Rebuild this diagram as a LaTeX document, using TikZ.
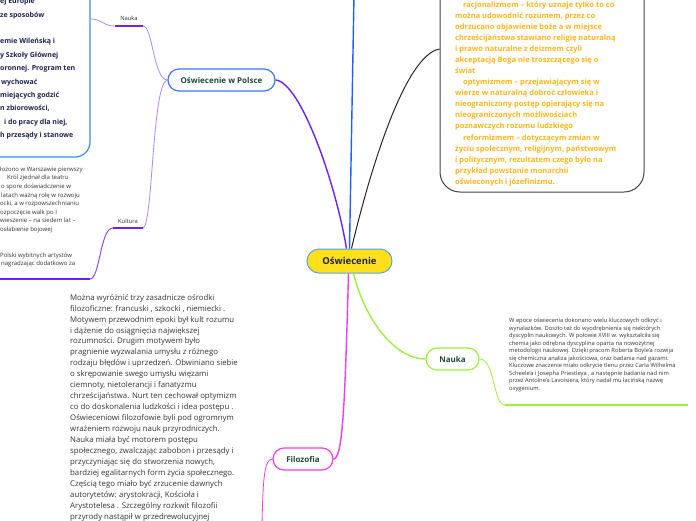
\documentclass[tikz,border=0pt]{standalone}
\usepackage{fontspec}
\setmainfont{Open Sans}
\definecolor{cpurple}{HTML}{6E22F2}
\definecolor{clpurple}{HTML}{A98BFA}
\definecolor{cblue}{HTML}{2060FF}
\definecolor{cgreen}{HTML}{9EF03C}
\definecolor{cmag}{HTML}{F03CF0}
\definecolor{cyel}{HTML}{FFE01A}
\definecolor{cnodeb}{HTML}{5AA6DC}
\definecolor{cnavy}{HTML}{1F2350}
\definecolor{cdgreen}{HTML}{1C4A3C}
\definecolor{corange}{HTML}{FFB61A}
\definecolor{ctext}{HTML}{333333}
\definecolor{cboxblue}{HTML}{3D8BE8}
\definecolor{cpolsce}{HTML}{3A78FF}
\definecolor{cgray}{HTML}{444444}
\tikzset{
  mainedge/.style={line width=1.4pt},
  subedge/.style={line width=0.8pt},
  uline/.style={line width=2pt},
  topic/.style={draw, rounded corners=11pt, line width=1.2pt, fill=white, inner sep=0pt,
    font=\bfseries\fontsize{8}{9}\selectfont, text=cdgreen, minimum height=22pt},
  para/.style={anchor=north west, align=left, inner sep=0pt},
  smalllabel/.style={inner sep=0pt, text=ctext, font=\fontsize{5.8}{7}\selectfont},
}
\begin{document}
\begin{tikzpicture}[x=1pt,y=-1pt]
\useasboundingbox (0,0) rectangle (696,520);
\clip (0,0) rectangle (696,520);
\fill[white] (0,0) rectangle (696,520);

% central node
\node[draw=cnodeb, fill=cyel, line width=1pt, rounded corners=12pt, minimum width=85pt, minimum height=24pt,
  inner sep=0pt, font=\bfseries\fontsize{9.5}{11}\selectfont, text=cnavy] (c) at (349.5,261) {Oświecenie};

% topics
\node[topic, draw=cpolsce, minimum width=107pt] (p) at (221.5,80) {Oświecenie w Polsce};
\node[topic, draw=cgreen, minimum width=53pt] (nr) at (452.5,359) {Nauka};
\node[topic, draw=cmag, minimum width=60pt] (f) at (303,459) {Filozofia};

% boxes
\node[draw=cboxblue, line width=1.2pt, rounded corners=15pt, minimum width=220pt, minimum height=200pt, inner sep=0pt] (lbox) at (-20,57) {};
\node[draw=cgray, line width=1pt, rounded corners=20pt, minimum width=204pt, minimum height=232pt, inner sep=0pt] (rbox) at (542,76) {};

% coordinates
\coordinate (topc) at (354,-5);
\coordinate (nuA) at (505,405);
\coordinate (nuB) at (688,405);
\coordinate (fend) at (262,525);
\coordinate (nlA) at (115,26);
\coordinate (nlB) at (143,26);
\coordinate (klA) at (113,228);
\coordinate (klB) at (143,228);
\coordinate (ktA) at (90,279);
\coordinate (ktB) at (-3,279);

% main edges
\draw[cpurple, mainedge] ([xshift=-3pt]c.north) .. controls (335,180) and (300,82) .. (p.east);
\draw[cblue, mainedge] (c.north) -- (topc);
\draw[black!85, line width=1pt] ([xshift=2pt]c.north) .. controls (370,170) and (405,55) .. ([yshift=27pt]rbox.west);
\draw[cgreen, mainedge] ([xshift=4pt]c.south) .. controls (365,320) and (395,359) .. (nr.west);
\draw[cmag, mainedge] ([xshift=-1pt]c.south) .. controls (345,400) and (343,459) .. (f.east);

% sub edges
\draw[cgreen, subedge] (nr.east) .. controls (495,359) and (493,405) .. (nuA);
\draw[cgreen, uline] (nuA) -- (nuB);
\draw[cmag, subedge] (f.west) .. controls (264,459) and (263,480) .. (fend);
\draw[clpurple, subedge] (p.west) .. controls (153,79) and (153,26) .. (nlB);
\draw[cpurple, uline] (nlB) -- (nlA);
\draw[clpurple, subedge] (nlA) .. controls (103,26) and (102,19) .. ([yshift=38pt]lbox.east);
\draw[clpurple, subedge] (p.west) .. controls (152,82) and (153,226) .. (klB);
\draw[cpurple, uline] (klB) -- (klA);
\draw[cpurple!80, line width=1pt] (klA) .. controls (100,228) and (100,279) .. (ktA);
\draw[cpurple, uline] (ktA) -- (ktB);

% labels
\node[smalllabel] (nl) at (129,18) {Nauka};
\node[smalllabel] (kl) at (128,221) {Kultura};

% texts
\node[para, text=cnavy, font=\bfseries\fontsize{7}{13.4}\selectfont] (ltext) at (0,-1.8) {ej Europie\\
ze sposobów\\
\mbox{}\\
emie Wileńską i\\
y Szkoły Głównej\\
oronnej. Program ten\\
\hspace*{1pt}wychować\\
miejących godzić\\
n zbiorowości,\\
\hspace*{4pt}i do pracy dla niej,\\
h przesądy i stanowe};

\node[para, text=ctext, font=\fontsize{6}{8.6}\selectfont] (ktext) at (0,166.5) {łożono w Warszawie pierwszy\\
\hspace*{7pt}Król zjednał dla teatru\\
\hspace*{1pt}o spore doświadczenie w\\
\hspace*{1pt}latach ważną rolę w rozwoju\\
ocki, a w rozpowszechnianiu\\
ozpoczęcie walk po I\\
wieszenie – na siedem lat –\\
osłabienie bojowej\\
\mbox{}\\
\mbox{}\\
Polski wybitnych artystów\\
\hspace*{1pt}nagradzając dodatkowo za};

\node[para, text=corange, font=\bfseries\fontsize{7.5}{11.04}\selectfont] (rtext) at (455,1.6) {\hspace*{8pt}racjonalizmem – który uznaje tylko to co\\
można udowodnić rozumem, przez co\\
odrzucano objawienie boże a w miejsce\\
chrześcijaństwa stawiano religię naturalną\\
i prawo naturalne z deizmem czyli\\
akceptacją Boga nie troszczącego się o\\
świat\\
\hspace*{8pt}optymizmem – przejawiającym się w\\
wierze w naturalną dobroć człowieka i\\
nieograniczony postęp opierający się na\\
nieograniczonych możliwościach\\
poznawczych rozumu ludzkiego\\
\hspace*{8pt}reformizmem – dotyczącym zmian w\\
życiu społecznym, religijnym, państwowym\\
i politycznym, rezultatem czego było na\\
przykład powstanie monarchii\\
oświeconych i józefinizmu.};

\node[para, text=ctext, font=\fontsize{5.75}{7.5}\selectfont] (ntext) at (509,318.2) {W epoce oświecenia dokonano wielu kluczowych odkryć i\\
wynalazków. Doszło też do wyodrębnienia się niektórych\\
dyscyplin naukowych. W połowie XVIII w. wykształciła się\\
chemia jako odrębna dyscyplina oparta na nowożytnej\\
metodologii naukowej. Dzięki pracom Roberta Boyle'a rozwija\\
się chemiczna analiza jakościowa, oraz badania nad gazami.\\
Kluczowe znaczenie miało odkrycie tlenu przez Carla Wilhelma\\
Scheele'a i Josepha Priestleya , a następnie badania nad nim\\
przez Antoine'a Lavoisiera, który nadał mu łacińską nazwę\\
oxygenium.};

\node[para, text=ctext, font=\fontsize{7.8}{10.95}\selectfont] (ftext) at (70,294) {Można wyróżnić trzy zasadnicze ośrodki\\
filozoficzne: francuski , szkocki , niemiecki .\\
Motywem przewodnim epoki był kult rozumu\\
i dążenie do osiągnięcia największej\\
rozumności. Drugim motywem było\\
pragnienie wyzwalania umysłu z różnego\\
rodzaju błędów i uprzedzeń. Obwiniano siebie\\
o skrępowanie swego umysłu więzami\\
ciemnoty, nietolerancji i fanatyzmu\\
chrześcijaństwa. Nurt ten cechował optymizm\\
co do doskonalenia ludzkości i idea postępu .\\
Oświeceniowi filozofowie byli pod ogromnym\\
wrażeniem rozwoju nauk przyrodniczych.\\
Nauka miała być motorem postępu\\
społecznego, zwalczając zabobon i przesądy i\\
przyczyniając się do stworzenia nowych,\\
bardziej egalitarnych form życia społecznego.\\
Częścią tego miało być zrzucenie dawnych\\
autorytetów: arystokracji, Kościoła i\\
Arystotelesa . Szczególny rozkwit filozofii\\
przyrody nastąpił w przedrewolucyjnej};
\end{tikzpicture}
\end{document}
